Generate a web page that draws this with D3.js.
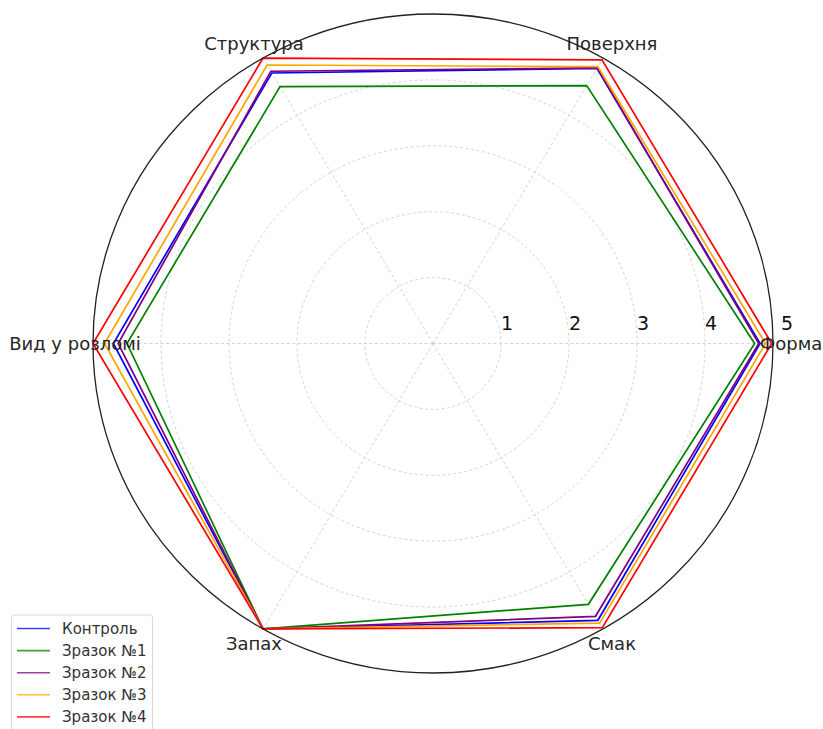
<!DOCTYPE html>
<html>
<head>
<meta charset="utf-8">
<script src="https://cdn.jsdelivr.net/npm/d3@7"></script>
<style>
  html, body { margin: 0; padding: 0; background: #fff; }
  svg { display: block; font-family: "DejaVu Sans", sans-serif; }
</style>
</head>
<body>
<svg id="chart" width="823" height="729"></svg>
<script>
// ---- data ----
const categories = ["Форма", "Поверхня", "Структура", "Вид у розломі", "Запах", "Смак"];
const seriesNames = ["Контроль", "Зразок №1", "Зразок №2", "Зразок №3", "Зразок №4"];
const control  = [4.81, 4.82, 4.74, 4.70, 5.0, 4.85];
const sample1  = [4.73, 4.52, 4.50, 4.50, 5.0, 4.57];
const sample2  = [4.79, 4.83, 4.77, 4.63, 5.0, 4.78];
const sample3  = [4.89, 4.85, 4.88, 4.83, 5.0, 4.90];
const sample4  = [4.98, 4.97, 5.00, 5.00, 5.0, 4.98];
const seriesColors = ["#0000ff", "#008000", "#800080", "#ffa500", "#ff0000"];
const radialTicks = [1, 2, 3, 4, 5];

const seriesValues = [control, sample1, sample2, sample3, sample4];

// ---- layout ----
const svg = d3.select("#chart");
const cx = 433, cy = 343.5;
const ky = 329.5 / 340;        // slight vertical squish of the reference image
const r = d3.scaleLinear().domain([0, 5]).range([0, 340]);
const angle = d3.scaleLinear().domain([0, categories.length]).range([0, 2 * Math.PI]);

const px = (v, i) => cx + r(v) * Math.cos(angle(i));
const py = (v, i) => cy - r(v) * Math.sin(angle(i)) * ky;

// grid circles
const g = svg.append("g");
g.selectAll("ellipse.grid").data(radialTicks.filter(t => t < 5)).join("ellipse")
  .attr("class", "grid")
  .attr("cx", cx).attr("cy", cy)
  .attr("rx", d => r(d)).attr("ry", d => r(d) * ky)
  .attr("fill", "none").attr("stroke", "#d4d4d4")
  .attr("stroke-width", 1).attr("stroke-dasharray", "3,2.5");

// spokes
g.selectAll("line.spoke").data(categories).join("line")
  .attr("class", "spoke")
  .attr("x1", cx).attr("y1", cy)
  .attr("x2", (d, i) => px(5, i)).attr("y2", (d, i) => py(5, i))
  .attr("stroke", "#d4d4d4").attr("stroke-width", 1).attr("stroke-dasharray", "3,2.5");

// radial tick labels
g.selectAll("text.rtick").data(radialTicks).join("text")
  .attr("class", "rtick")
  .attr("x", d => cx + r(d) + 6 + (d === 5 ? 8 : 0))
  .attr("y", cy - 21)
  .attr("text-anchor", "middle").attr("dominant-baseline", "central")
  .attr("font-size", 19).attr("fill", "#111")
  .text(d => d);

// series polygons
const line = d3.line().curve(d3.curveLinearClosed);
seriesValues.forEach((vals, s) => {
  const pts = vals.map((v, i) => [px(v, i), py(v, i)]);
  g.append("path")
    .attr("d", line(pts))
    .attr("fill", "none")
    .attr("stroke", seriesColors[s])
    .attr("stroke-width", 1.7);
});

// outer circle (spine)
g.append("ellipse")
  .attr("cx", cx).attr("cy", cy)
  .attr("rx", r(5)).attr("ry", r(5) * ky)
  .attr("fill", "none").attr("stroke", "#222").attr("stroke-width", 1.3);

// category labels
const labelR = r(5) * 1.053;
g.selectAll("text.cat").data(categories).join("text")
  .attr("class", "cat")
  .attr("x", (d, i) => cx + labelR * Math.cos(angle(i)))
  .attr("y", (d, i) => cy - labelR * Math.sin(angle(i)) * ky)
  .attr("text-anchor", "middle").attr("dominant-baseline", "central")
  .attr("font-size", 18).attr("fill", "#262626")
  .text(d => d);

// legend
const leg = svg.append("g").attr("transform", "translate(11.5,615)");
leg.append("rect")
  .attr("x", 0).attr("y", 0).attr("width", 141).attr("height", 118)
  .attr("rx", 3)
  .attr("fill", "#fff").attr("stroke", "#d8d8d8").attr("stroke-width", 1);
const rows = leg.selectAll("g.row").data(seriesNames).join("g")
  .attr("class", "row")
  .attr("transform", (d, i) => `translate(0,${13.5 + i * 22.1})`);
rows.append("line")
  .attr("x1", 5.5).attr("x2", 38.5).attr("y1", 0).attr("y2", 0)
  .attr("stroke", (d, i) => seriesColors[i]).attr("stroke-width", 1.6).attr("opacity", 0.75);
rows.append("text")
  .attr("x", 50.5).attr("y", 0)
  .attr("dominant-baseline", "central")
  .attr("font-size", 15).attr("fill", "#333")
  .text(d => d);
</script>
</body>
</html>
